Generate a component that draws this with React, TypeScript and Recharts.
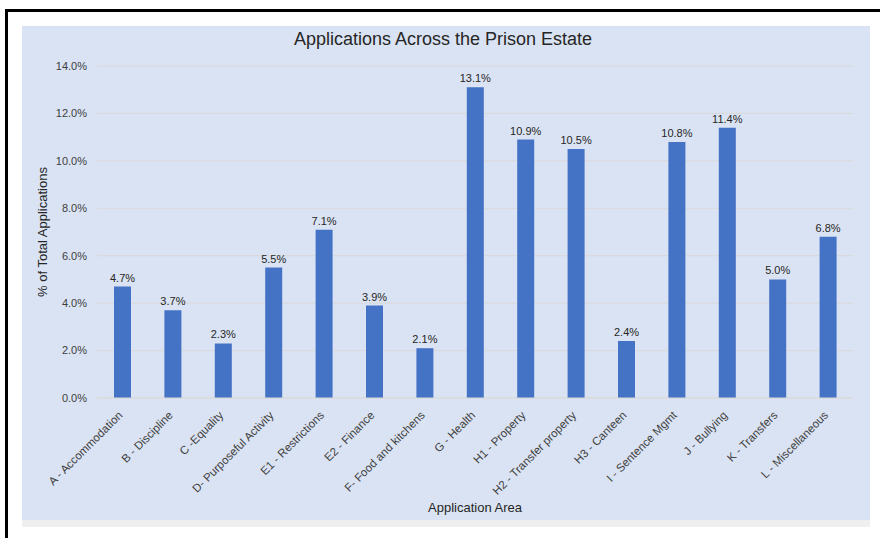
import React from 'react';
import { Bar, BarChart, CartesianGrid, LabelList, XAxis, YAxis } from 'recharts';

const categories = [
  'A - Accommodation',
  'B - Discipline',
  'C -Equality',
  'D- Purposeful Activity',
  'E1 - Restrictions',
  'E2 - Finance',
  'F- Food and kitchens',
  'G - Health',
  'H1 - Property',
  'H2 - Transfer property',
  'H3 - Canteen',
  'I - Sentence Mgmt',
  'J -  Bullying',
  'K - Transfers',
  'L - Miscellaneous',
];
const shares = [4.7, 3.7, 2.3, 5.5, 7.1, 3.9, 2.1, 13.1, 10.9, 10.5, 2.4, 10.8, 11.4, 5.0, 6.8];
const yTicks = [0, 2, 4, 6, 8, 10, 12, 14];

const data = categories.map((name, i) => ({ name, value: shares[i] }));

const font = '"Liberation Sans", Arial, sans-serif';
const pct = (v: number) => `${Number(v).toFixed(1)}%`;

function AreaTick(props: any) {
  const { x, y, payload } = props;
  const tx = x + 1;
  const ty = y + 10;
  return (
    <text
      x={tx}
      y={ty}
      transform={`rotate(-45, ${tx}, ${ty})`}
      textAnchor="end"
      fontSize={11.5}
      fill="#404040"
      fontFamily={font}
    >
      {payload.value}
    </text>
  );
}

function YTitle() {
  return (
    <text
      x={20}
      y={206}
      transform="rotate(-90, 20, 206)"
      textAnchor="middle"
      dominantBaseline="central"
      fontSize={13}
      fill="#262626"
      fontFamily={font}
    >
      % of Total Applications
    </text>
  );
}

export default function App() {
  return (
    <div
      style={{
        position: 'absolute',
        left: 0,
        top: 0,
        width: 880,
        height: 538,
        overflow: 'hidden',
        background: '#ffffff',
        fontFamily: font,
      }}
    >
      <div
        style={{
          position: 'absolute',
          left: 5,
          top: 9,
          width: 900,
          height: 600,
          borderTop: '3px solid #000',
          borderLeft: '3px solid #000',
        }}
      />
      <div style={{ position: 'absolute', left: 22, top: 520, width: 848, height: 7, background: '#efefef' }} />
      <div style={{ position: 'absolute', left: 22, top: 26, width: 848, height: 494, background: '#dae3f3' }}>
        <div
          style={{
            position: 'absolute',
            left: 0,
            width: 842,
            top: 3,
            textAlign: 'center',
            fontSize: 18,
            color: '#262626',
          }}
        >
          Applications Across the Prison Estate
        </div>
        <BarChart
          width={848}
          height={494}
          data={data}
          margin={{ top: 40, right: 17, left: 0, bottom: 0 }}
          barCategoryGap={0}
        >
          <CartesianGrid vertical={false} stroke="#d9d9d9" />
          <XAxis
            dataKey="name"
            interval={0}
            height={122}
            tickLine={false}
            axisLine={{ stroke: '#d9d9d9' }}
            tick={<AreaTick />}
            label={{
              value: 'Application Area',
              position: 'insideBottom',
              offset: 8,
              fontSize: 13,
              fill: '#262626',
              fontFamily: font,
            }}
          />
          <YAxis
            width={75}
            domain={[0, 14]}
            ticks={yTicks}
            tickFormatter={pct}
            tickLine={false}
            axisLine={false}
            tickMargin={4}
            tick={{ fontSize: 11, fill: '#404040', fontFamily: font }}
            label={<YTitle />}
          />
          <Bar dataKey="value" fill="#4472c4" barSize={17} isAnimationActive={false}>
            <LabelList
              dataKey="value"
              position="top"
              formatter={pct}
              fontSize={11}
              fill="#262626"
              fontFamily={font}
            />
          </Bar>
        </BarChart>
      </div>
    </div>
  );
}
